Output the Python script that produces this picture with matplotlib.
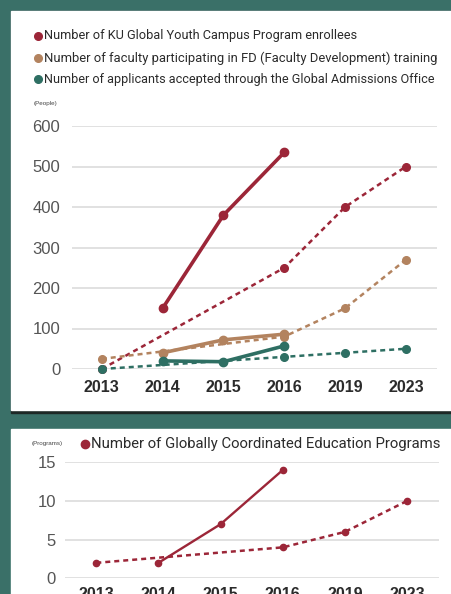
import numpy as np
import matplotlib.pyplot as plt
from matplotlib.patches import Rectangle
from matplotlib.lines import Line2D

years = ['2013', '2014', '2015', '2016', '2019', '2023']
actual_years = ['2014', '2015', '2016']
target_years = ['2013', '2016', '2019', '2023']

ku_actual = [150, 380, 535]
ku_target = [0, 250, 400, 500]
fd_actual = [40, 72, 86]
fd_target = [25, 80, 150, 270]
gao_actual = [20, 18, 57]
gao_target = [0, 30, 40, 50]

prog_actual = [2, 7, 14]
prog_target = [2, 4, 6, 10]

top_labels = ['Number of KU Global Youth Campus Program enrollees',
              'Number of faculty participating in FD (Faculty Development) training',
              'Number of applicants accepted through the Global Admissions Office']
bottom_label = 'Number of Globally Coordinated Education Programs'

RED = '#9c2638'
BROWN = '#b3835f'
TEAL = '#2e6f63'
BG = '#3a7068'
GRID = '#dcdcdc'

W, H = 451, 594
FONT = ['Liberation Sans', 'DejaVu Sans']
LEG_FONT = ['Roboto', 'DejaVu Sans']


def fx(px):
    return px / W


def fy(py):
    return 1 - py / H


fig = plt.figure(figsize=(W / 100, H / 100), dpi=100)
fig.patch.set_facecolor(BG)

# panels with a little shadow under the top one
fig.add_artist(Rectangle((fx(11), fy(413)), 1, (413 - 11) / H, transform=fig.transFigure,
                         color='#1d2826', zorder=0))
fig.add_artist(Rectangle((fx(11), fy(410)), 1, (410 - 11) / H, transform=fig.transFigure,
                         color='white', zorder=0))
fig.add_artist(Rectangle((fx(11), 0), 1, (594 - 429) / H, transform=fig.transFigure,
                         color='white', zorder=0))

xpos = {y: i for i, y in enumerate(years)}
xa = [xpos[y] for y in actual_years]
xt = [xpos[y] for y in target_years]


def setup(ax, ylim, yticks, ypad):
    ax.set_facecolor('none')
    ax.set_ylim(*ylim)
    ax.set_yticks(yticks)
    ax.set_xticks(range(len(years)))
    ax.set_xticklabels(years, fontsize=11.5, fontweight='bold', color='#2b2b2b', family=FONT)
    for lab in ax.get_yticklabels():
        lab.set_fontsize(12)
        lab.set_color('#555555')
        lab.set_family(FONT)
    ax.tick_params(length=0)
    ax.tick_params(axis='y', pad=ypad)
    ax.tick_params(axis='x', pad=8)
    for s in ax.spines.values():
        s.set_visible(False)
    ax.grid(axis='y', color=GRID, lw=1.2)
    ax.set_axisbelow(True)


def fit_text(t, width_px):
    r = fig.canvas.get_renderer()
    w = t.get_window_extent(r).width
    t.set_fontsize(t.get_fontsize() * width_px / w)


# top chart
ax1 = fig.add_axes([fx(72), fy(369), (437 - 72) / W, (369 - 126) / H])
ax1.set_xlim(-0.49, 5.51)
setup(ax1, (0, 600), range(0, 601, 100), 8.5)

series = [(ku_target, ku_actual, RED), (fd_target, fd_actual, BROWN),
          (gao_target, gao_actual, TEAL)]
for target, actual, c in series:
    ax1.plot(xt, target, color=c, lw=1.8, ls=(0, (2.0, 1.6)), marker='o', ms=5.5,
             clip_on=False, zorder=3)
for target, actual, c in series:
    ax1.plot(xa, actual, color=c, lw=2.6, marker='o', ms=6, clip_on=False, zorder=4)

widths = [314, 395, 391]
for i, (lab, c) in enumerate(zip(top_labels, [RED, BROWN, TEAL])):
    yy = [36, 58, 79][i]
    fig.add_artist(Line2D([fx(38)], [fy(yy)], marker='o', ms=5.5, color=c,
                          transform=fig.transFigure))
    t = fig.text(fx(44), fy(yy), lab, fontsize=10.5, color='#2b2b2b', va='center',
                 ha='left', family=LEG_FONT)
    fit_text(t, widths[i])
fig.text(fx(34), fy(104), '(People)', fontsize=4.5, color='#444444', va='center', family=FONT)

# bottom chart
ax2 = fig.add_axes([fx(65), fy(578.3), (438.7 - 65) / W, (578.3 - 462.3) / H])
ax2.set_xlim(-0.504, 5.51)
setup(ax2, (0, 15), range(0, 16, 5), 6.5)
ax2.tick_params(axis='x', pad=6)
ax2.plot(xt, prog_target, color=RED, lw=1.8, ls=(0, (2.0, 1.6)), marker='o', ms=4.5,
         clip_on=False, zorder=3)
ax2.plot(xa, prog_actual, color=RED, lw=1.7, marker='o', ms=4.5, clip_on=False, zorder=4)

fig.add_artist(Line2D([fx(85)], [fy(444)], marker='o', ms=6, color=RED,
                      transform=fig.transFigure))
t = fig.text(fx(91), fy(444), bottom_label, fontsize=12, color='#2b2b2b', va='center',
             ha='left', family=LEG_FONT)
fit_text(t, 350)
fig.text(fx(32), fy(444), '(Programs)', fontsize=4.5, color='#444444', va='center', family=FONT)

fig.savefig('out.png', dpi=100, facecolor=BG)
